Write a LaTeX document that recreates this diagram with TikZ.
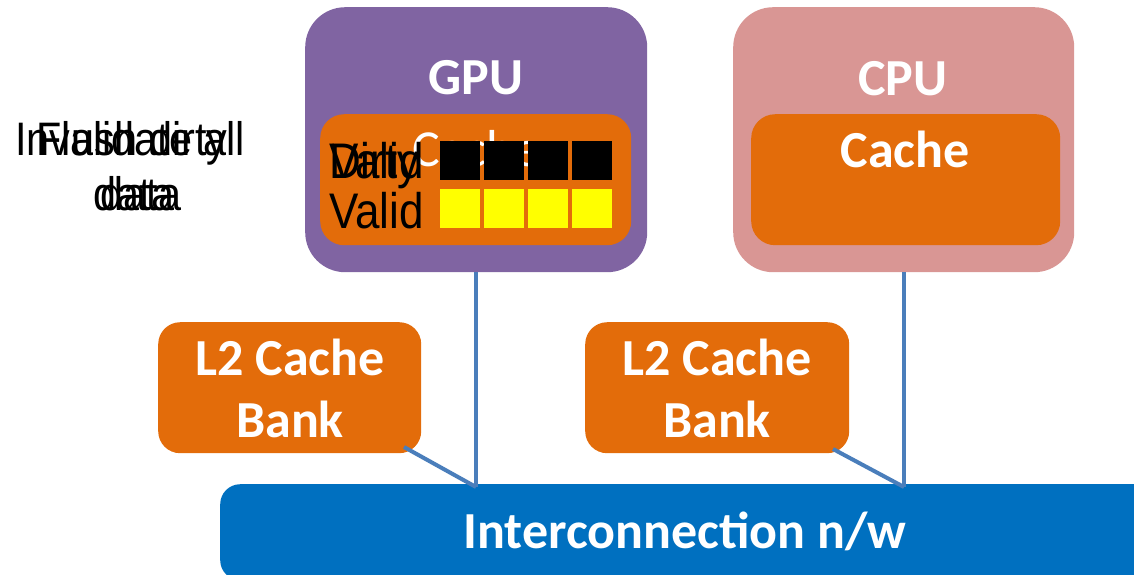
\documentclass[tikz,border=0pt]{standalone}
\usepackage{fontspec}
\setmainfont{Carlito}
\newfontfamily\narrowfont[FakeStretch=0.88]{Liberation Sans}
\definecolor{gpuc}{HTML}{8064A2}
\definecolor{cpuc}{HTML}{D99694}
\definecolor{orc}{HTML}{E36C0A}
\definecolor{netc}{HTML}{0070C0}
\definecolor{linec}{HTML}{4A7EBB}
\definecolor{yel}{HTML}{FFFF00}
\tikzset{
  box/.style={rectangle, inner sep=0pt, anchor=north west, draw=none},
  big/.style={text=white, font=\bfseries\fontsize{52}{60}\selectfont, anchor=base, inner sep=0pt},
  thin/.style={text=white, font=\fontsize{52}{60}\selectfont, anchor=base, inner sep=0pt},
  narrow/.style={text=black, font=\narrowfont\fontsize{47}{55}\selectfont, inner sep=0pt},
  cellnarrow/.style={text=black, font=\narrowfont\fontsize{50}{58}\selectfont, inner sep=0pt},
  cell/.style={rectangle, inner sep=0pt, minimum width=40pt, minimum height=39pt, anchor=north west},
  wire/.style={draw=linec, line width=4pt}
}
\begin{document}
\begin{tikzpicture}[x=1pt,y=-1pt]
\useasboundingbox (0,0) rectangle (1134,574);
\clip (0,0) rectangle (1134,574);
% GPU
\node[box, fill=gpuc, rounded corners=40pt, minimum width=342pt, minimum height=265pt] (gpu) at (305,7) {};
\node[big] (gputxt) at (476,94) {GPU};
\node[box, fill=orc, rounded corners=24pt, minimum width=311pt, minimum height=131pt] (gcache) at (320,114) {};
\node[thin] (gcachetxt) at (476,166) {Cache};
\foreach \i/\x in {1/440,2/484,3/528,4/572}{
  \node[cell, fill=yel] (v\i) at (\x,189) {};
  \node[cell, fill=yel] (dy\i) at (\x,141) {};
  \node[cell, fill=black] (d\i) at (\x,141) {};
}
\node[cellnarrow, anchor=base west] (dirty) at (329,178) {Dirty};
\node[cellnarrow, anchor=base west] (valid1) at (329,178) {Valid};
\node[cellnarrow, anchor=base west] (valid2) at (329,228) {Valid};
% CPU
\node[box, fill=cpuc, rounded corners=40pt, minimum width=341pt, minimum height=265pt] (cpu) at (733,7) {};
\node[big] (cputxt) at (903,95) {CPU};
\node[box, fill=orc, rounded corners=24pt, minimum width=309pt, minimum height=131pt] (ccache) at (751,114) {};
\node[big] (ccachetxt) at (905,167) {Cache};
% L2 banks
\node[box, fill=orc, rounded corners=22pt, minimum width=263pt, minimum height=131pt] (l2a) at (158,322) {};
\node[big] (l2atxt1) at (290,375) {L2 Cache};
\node[big] (l2atxt2) at (290,437) {Bank};
\node[box, fill=orc, rounded corners=22pt, minimum width=264pt, minimum height=131pt] (l2b) at (585,322) {};
\node[big] (l2btxt1) at (717,375) {L2 Cache};
\node[big] (l2btxt2) at (717,437) {Bank};
% network
\node[box, fill=netc, rounded corners=20pt, minimum width=960pt, minimum height=96pt] (net) at (220,484) {};
\node[big] (nettxt) at (685,548) {Interconnection n/w};
% wires
\coordinate (gj) at (476,487);
\coordinate (cj) at (904,487);
\coordinate (l2ac) at (404,447);
\coordinate (l2bc) at (833,449);
\draw[wire] (gpu.south -| gj) -- (gj);
\draw[wire] (cpu.south -| cj) -- (cj);
\draw[wire] (l2ac) -- (gj);
\draw[wire] (l2bc) -- (cj);
% left notes
\node[narrow, anchor=base] (inv1) at (130,155) {Invalidate all};
\node[narrow, anchor=base] (fl1) at (132,155) {Flush dirty};
\node[narrow, anchor=base] (inv2) at (134,210) {data};
\node[narrow, anchor=base] (fl2) at (141,210) {data};
\end{tikzpicture}
\end{document}
